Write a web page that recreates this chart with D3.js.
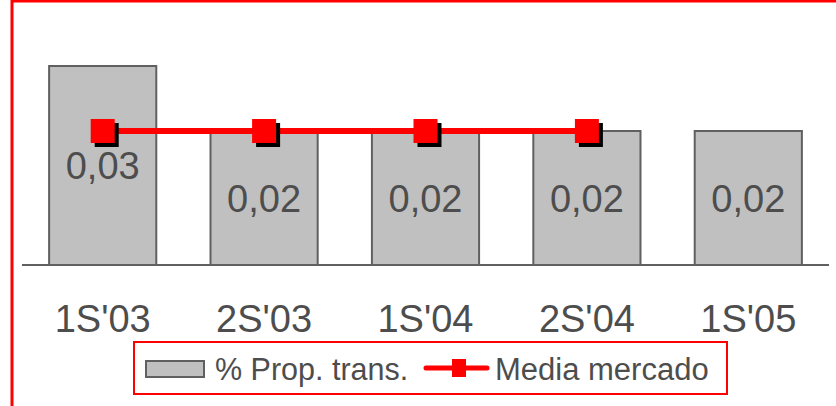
<!DOCTYPE html>
<html>
<head>
<meta charset="utf-8">
<script src="https://cdn.jsdelivr.net/npm/d3@7"></script>
<style>
  body { margin: 0; background: #fff; }
  text { font-family: "Liberation Sans", Arial, sans-serif; fill: #4d4d4d; }
</style>
</head>
<body>
<div id="chart"></div>
<script>
var width = 836,
    height = 406;

// data
var periods = ["1S'03", "2S'03", "1S'04", "2S'04", "1S'05"];
var propTrans = [0.0297, 0.02, 0.02, 0.02, 0.02];
var mediaMercado = [0.02, 0.02, 0.02, 0.02, null];
var legendNames = ["% Prop. trans.", "Media mercado"];

var svg = d3.select("#chart").append("svg")
    .attr("width", width)
    .attr("height", height);

// red frame (right and bottom edges fall outside the picture)
svg.append("rect")
    .attr("x", 12).attr("y", 1)
    .attr("width", 900).attr("height", 500)
    .attr("fill", "none")
    .attr("stroke", "#ff0000")
    .attr("stroke-width", 3);

var x = d3.scaleBand()
    .domain(periods)
    .range([22, 829])
    .paddingInner(0.336)
    .paddingOuter(0.168);

var y = d3.scaleLinear()
    .domain([0, 0.035])
    .range([265, 30.5]);

var fmt = d3.formatLocale({decimal: ",", thousands: ".", grouping: [3], currency: ["", ""]}).format(".2f");

// bars
svg.selectAll(".bar")
    .data(propTrans)
    .enter().append("rect")
    .attr("class", "bar")
    .attr("x", function(d, i) { return x(periods[i]); })
    .attr("y", function(d) { return y(d); })
    .attr("width", x.bandwidth())
    .attr("height", function(d) { return y(0) - y(d); })
    .attr("fill", "#c0c0c0")
    .attr("stroke", "#606060")
    .attr("stroke-width", 2);

// baseline
svg.append("line")
    .attr("x1", x.range()[0]).attr("x2", x.range()[1])
    .attr("y1", y(0)).attr("y2", y(0))
    .attr("stroke", "#606060")
    .attr("stroke-width", 2);

// x labels
svg.selectAll(".xlabel")
    .data(periods)
    .enter().append("text")
    .attr("class", "xlabel")
    .attr("x", function(d) { return x(d) + x.bandwidth() / 2; })
    .attr("y", 332)
    .attr("text-anchor", "middle")
    .style("font-size", "38px")
    .text(function(d) { return d; });

// line series
var pts = mediaMercado.map(function(v, i) { return {p: periods[i], v: v}; })
    .filter(function(d) { return d.v !== null; });

var line = d3.line()
    .x(function(d) { return x(d.p) + x.bandwidth() / 2; })
    .y(function(d) { return y(d.v); });

svg.append("path")
    .datum(pts)
    .attr("d", line)
    .attr("fill", "none")
    .attr("stroke", "#ff0000")
    .attr("stroke-width", 6);

var msize = 24;
svg.selectAll(".mshadow")
    .data(pts)
    .enter().append("rect")
    .attr("class", "mshadow")
    .attr("x", function(d) { return x(d.p) + x.bandwidth() / 2 - msize / 2 + 4; })
    .attr("y", function(d) { return y(d.v) - msize / 2 + 4; })
    .attr("width", msize).attr("height", msize)
    .attr("fill", "#000");

svg.selectAll(".marker")
    .data(pts)
    .enter().append("rect")
    .attr("class", "marker")
    .attr("x", function(d) { return x(d.p) + x.bandwidth() / 2 - msize / 2; })
    .attr("y", function(d) { return y(d.v) - msize / 2; })
    .attr("width", msize).attr("height", msize)
    .attr("fill", "#ff0000");

// bar value labels, centred in bar
svg.selectAll(".vlabel")
    .data(propTrans)
    .enter().append("text")
    .attr("class", "vlabel")
    .attr("x", function(d, i) { return x(periods[i]) + x.bandwidth() / 2; })
    .attr("y", function(d) { return (y(d) + y(0)) / 2; })
    .attr("dy", "0.36em")
    .attr("text-anchor", "middle")
    .style("font-size", "38px")
    .text(function(d) { return fmt(d); });

// legend
var legend = svg.append("g");
legend.append("rect")
    .attr("x", 134).attr("y", 342)
    .attr("width", 593).attr("height", 52)
    .attr("fill", "#fff")
    .attr("stroke", "#ff0000")
    .attr("stroke-width", 2);

legend.append("rect")
    .attr("x", 146).attr("y", 361)
    .attr("width", 58).attr("height", 16)
    .attr("fill", "#c0c0c0")
    .attr("stroke", "#606060")
    .attr("stroke-width", 2);

legend.append("text")
    .attr("x", 215).attr("y", 380)
    .style("font-size", "30.5px")
    .text(legendNames[0]);

legend.append("line")
    .attr("x1", 426).attr("x2", 487)
    .attr("y1", 368).attr("y2", 368)
    .attr("stroke", "#ff0000")
    .attr("stroke-width", 5)
    .attr("stroke-linecap", "round");

legend.append("rect")
    .attr("x", 452).attr("y", 359)
    .attr("width", 14).attr("height", 18)
    .attr("fill", "#ff0000");

legend.append("text")
    .attr("x", 495).attr("y", 380)
    .style("font-size", "31px")
    .text(legendNames[1]);
</script>
</body>
</html>
